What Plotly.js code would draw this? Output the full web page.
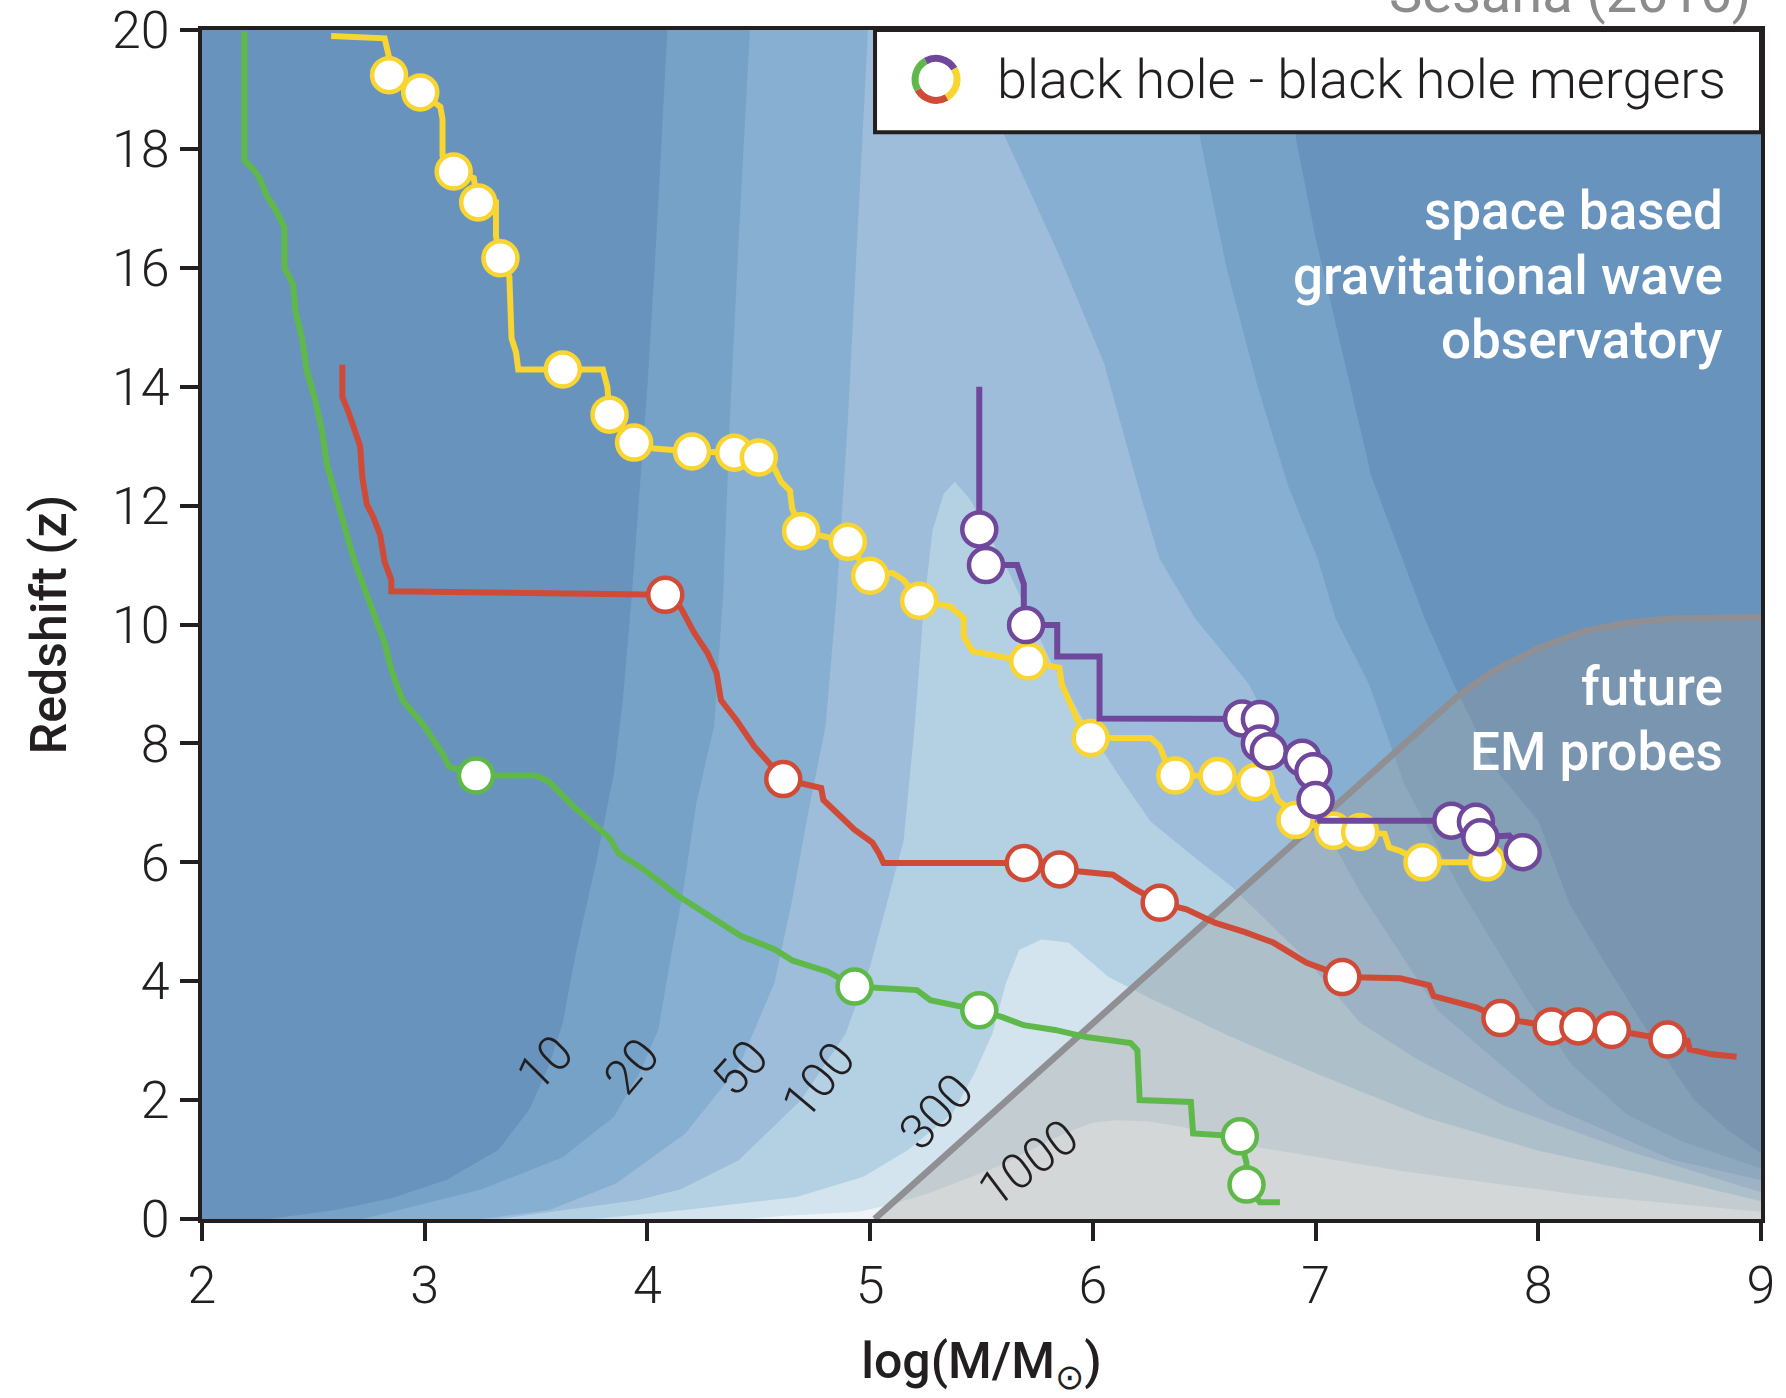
<!DOCTYPE html>
<html>
<head>
<meta charset="utf-8">
<script src="https://cdn.plot.ly/plotly-3.0.1.min.js"></script>
<style>html,body{margin:0;padding:0;background:#fff;}#chart{width:1786px;height:1398px;}</style>
</head>
<body>
<div id="chart"></div>
<script>
// ---------- axis ticks ----------
const xTickVals = [2, 3, 4, 5, 6, 7, 8, 9];
const xTickText = ['2', '3', '4', '5', '6', '7', '8', '9'];
const yTickVals = [0, 2, 4, 6, 8, 10, 12, 14, 16, 18, 20];
const yTickText = ['0', '2', '4', '6', '8', '10', '12', '14', '16', '18', '20'];

// ---------- SNR contour regions (log M, z) ----------
const snr10X = [2.30, 2.60, 2.85, 3.10, 3.33, 3.47, 3.56, 3.62, 3.68, 3.77, 3.85, 3.89, 3.93, 3.97, 4.00, 4.04, 4.07, 4.09,
                6.91, 6.91, 7.00, 7.13, 7.25, 7.39, 7.49, 7.62, 7.80, 8.00, 8.14, 8.30, 8.50, 8.70, 8.85, 9.00, 9.00];
const snr10Z = [0.00, 0.15, 0.35, 0.66, 1.16, 1.84, 2.60, 3.30, 4.50, 6.00, 7.50, 8.74, 10.5, 12.5, 14.0, 16.5, 18.5, 20.0,
                20.0, 18.2, 16.5, 14.4, 12.5, 11.1, 10.1, 9.00, 7.60, 6.70, 5.30, 4.30, 3.10, 2.00, 1.50, 1.10, 0.00];
const snr20X = [2.72, 3.25, 3.62, 3.85, 3.97, 4.05, 4.10, 4.16, 4.22, 4.30, 4.34, 4.37, 4.41, 4.46,
                6.47, 6.48, 6.60, 6.74, 6.88, 7.01, 7.09, 7.24, 7.40, 7.65, 7.95, 8.15, 8.40, 8.65, 9.00, 9.00];
const snr20Z = [0.00, 0.49, 1.04, 1.72, 2.50, 3.20, 4.30, 5.50, 7.00, 8.30, 10.5, 13.45, 16.5, 20.0,
                20.0, 18.2, 16.0, 14.0, 12.3, 11.1, 10.1, 9.00, 7.30, 5.55, 3.70, 2.60, 1.75, 1.30, 0.85, 0.00];
const snr50X = [3.25, 3.56, 3.86, 4.17, 4.41, 4.57, 4.65, 4.72, 4.80, 4.85, 4.90, 4.95, 4.99,
                5.59, 5.60, 5.85, 6.05, 6.22, 6.30, 6.46, 6.70, 6.95, 7.20, 7.55, 8.05, 8.60, 9.00, 9.00];
const snr50Z = [0.00, 0.15, 0.60, 1.44, 2.56, 3.97, 5.37, 6.80, 8.30, 10.5, 13.45, 17.0, 20.0,
                20.0, 18.25, 16.2, 14.4, 12.1, 11.1, 10.1, 9.00, 7.20, 5.50, 3.50, 1.90, 1.00, 0.65, 0.00];
const snr100X = [3.33, 3.96, 4.15, 4.41, 4.69, 4.89, 5.00, 5.08, 5.15, 5.20, 5.24, 5.28, 5.33, 5.38,
                 5.45, 5.62, 5.80, 5.97, 6.14, 6.26, 6.45, 6.62, 6.95, 7.20, 7.45, 7.85, 8.40, 9.00, 9.00];
const snr100Z = [0.00, 0.32, 0.50, 0.99, 2.00, 3.12, 4.25, 5.40, 6.36, 8.30, 10.24, 11.58, 12.2, 12.4,
                 12.1, 10.9, 9.46, 8.30, 7.33, 6.68, 6.10, 5.60, 4.40, 3.30, 2.70, 1.90, 1.15, 0.45, 0.00];
const snr300X = [3.76, 4.17, 4.67, 4.97, 5.17, 5.37, 5.47, 5.55, 5.61, 5.67, 5.77,
                 5.89, 6.07, 6.27, 6.60, 7.00, 7.50, 8.00, 8.50, 9.00, 9.00];
const snr300Z = [0.00, 0.15, 0.37, 0.71, 1.16, 1.78, 2.46, 3.13, 3.97, 4.53, 4.70,
                 4.65, 4.07, 3.69, 3.10, 2.45, 1.70, 1.15, 0.75, 0.30, 0.00];
const snr1000X = [4.45, 4.60, 4.95, 5.10, 5.27, 5.57, 5.87, 6.00, 6.10,
                  6.25, 6.40, 6.75, 7.40, 8.20, 9.00, 9.00];
const snr1000Z = [0.00, 0.05, 0.12, 0.25, 0.44, 0.88, 1.44, 1.62, 1.66,
                  1.64, 1.55, 1.20, 0.80, 0.40, 0.12, 0.00];
const snrLevels = ['10', '20', '50', '100', '300', '1000'];
const snrLabelX = [3.54, 3.93, 4.415, 4.77, 5.30, 5.71];
const snrLabelZ = [2.62, 2.56, 2.54, 2.33, 1.80, 0.94];
const snrLabelAngle = [-45, -50, -48, -50, -47, -37];

// ---------- future EM probes boundary ----------
const emLineX = [5.02, 7.64, 7.80, 8.00, 8.20, 8.40, 8.60, 9.00];
const emLineZ = [0.00, 8.80, 9.22, 9.60, 9.88, 10.03, 10.10, 10.12];

// ---------- merger trees ----------
const greenPathX = [2.19, 2.19, 2.23, 2.26, 2.29, 2.33, 2.37, 2.37, 2.41, 2.42, 2.45, 2.47, 2.51, 2.54, 2.56, 2.60, 2.64, 2.68, 2.73, 2.78, 2.82, 2.85, 2.90, 3.00, 3.08, 3.11, 3.23, 3.50, 3.56, 3.67, 3.83, 3.87, 3.98, 4.14, 4.32, 4.42, 4.57, 4.65, 4.81, 4.93, 5.21, 5.27, 5.49, 5.59, 5.69, 5.83, 5.97, 6.07, 6.17, 6.20, 6.21, 6.44, 6.45, 6.66, 6.69, 6.69, 6.75, 6.84];
const greenPathZ = [19.98, 17.81, 17.66, 17.50, 17.22, 16.98, 16.68, 16.00, 15.71, 15.26, 14.80, 14.28, 13.75, 13.23, 12.70, 12.17, 11.65, 11.12, 10.60, 10.07, 9.69, 9.24, 8.73, 8.28, 7.83, 7.61, 7.46, 7.46, 7.35, 6.93, 6.41, 6.15, 5.89, 5.43, 4.99, 4.76, 4.54, 4.35, 4.16, 3.91, 3.85, 3.68, 3.51, 3.40, 3.26, 3.18, 3.06, 3.01, 2.96, 2.84, 2.00, 1.97, 1.44, 1.39, 0.94, 0.58, 0.28, 0.28];
const greenMergX = [3.23, 4.93, 5.49, 6.66, 6.69];
const greenMergZ = [7.46, 3.91, 3.51, 1.39, 0.58];

const redPathX = [2.63, 2.63, 2.66, 2.68, 2.71, 2.72, 2.74, 2.77, 2.80, 2.82, 2.85, 2.85, 3.50, 4.08, 4.15, 4.21, 4.27, 4.31, 4.33, 4.40, 4.48, 4.55, 4.61, 4.78, 4.79, 4.93, 5.01, 5.04, 5.06, 5.69, 5.85, 6.09, 6.18, 6.30, 6.42, 6.55, 6.68, 6.81, 6.96, 7.04, 7.12, 7.38, 7.51, 7.53, 7.72, 7.83, 8.06, 8.18, 8.33, 8.58, 8.67, 8.68, 8.78, 8.89];
const redPathZ = [14.37, 13.83, 13.55, 13.30, 13.00, 12.47, 12.02, 11.80, 11.50, 11.05, 10.75, 10.56, 10.54, 10.50, 10.28, 9.86, 9.52, 9.19, 8.73, 8.39, 7.95, 7.64, 7.40, 7.25, 7.05, 6.55, 6.33, 6.15, 5.99, 5.99, 5.88, 5.79, 5.57, 5.32, 5.21, 4.98, 4.83, 4.65, 4.31, 4.20, 4.07, 4.05, 3.93, 3.75, 3.56, 3.38, 3.24, 3.24, 3.18, 3.02, 3.00, 2.85, 2.77, 2.73];
const redMergX = [4.08, 4.61, 5.69, 5.85, 6.30, 7.12, 7.83, 8.06, 8.18, 8.33, 8.58];
const redMergZ = [10.50, 7.40, 5.99, 5.88, 5.32, 4.07, 3.38, 3.24, 3.24, 3.18, 3.02];

const yellowPathX = [2.58, 2.82, 2.84, 2.84, 2.98, 3.07, 3.08, 3.08, 3.13, 3.22, 3.24, 3.32, 3.32, 3.34, 3.38, 3.39, 3.41, 3.42, 3.62, 3.80, 3.82, 3.83, 3.94, 4.03, 4.20, 4.39, 4.50, 4.57, 4.60, 4.64, 4.65, 4.69, 4.90, 5.00, 5.10, 5.15, 5.22, 5.36, 5.42, 5.42, 5.46, 5.71, 5.85, 5.86, 5.90, 5.93, 5.99, 6.26, 6.30, 6.32, 6.37, 6.56, 6.73, 6.80, 6.83, 6.87, 6.91, 7.08, 7.20, 7.31, 7.33, 7.38, 7.48, 7.77];
const yellowPathZ = [19.90, 19.86, 19.54, 19.24, 18.95, 18.71, 18.50, 17.89, 17.62, 17.51, 17.10, 17.10, 16.53, 16.16, 15.85, 14.81, 14.58, 14.29, 14.29, 14.29, 14.00, 13.53, 13.06, 12.96, 12.91, 12.89, 12.81, 12.63, 12.40, 12.25, 11.95, 11.57, 11.39, 10.82, 10.87, 10.75, 10.40, 10.30, 10.11, 9.80, 9.55, 9.38, 9.27, 9.00, 8.62, 8.40, 8.09, 8.09, 7.95, 7.76, 7.46, 7.45, 7.35, 7.35, 7.05, 6.93, 6.71, 6.53, 6.51, 6.48, 6.25, 6.19, 6.00, 6.00];
const yellowMergX = [2.84, 2.98, 3.13, 3.24, 3.34, 3.62, 3.83, 3.94, 4.20, 4.39, 4.50, 4.69, 4.90, 5.00, 5.22, 5.71, 5.99, 6.37, 6.56, 6.73, 6.91, 7.08, 7.20, 7.48, 7.77];
const yellowMergZ = [19.24, 18.95, 17.62, 17.10, 16.16, 14.29, 13.53, 13.06, 12.91, 12.89, 12.81, 11.57, 11.39, 10.82, 10.40, 9.38, 8.09, 7.46, 7.45, 7.35, 6.71, 6.53, 6.51, 6.00, 6.00];

const purplePathX = [5.49, 5.49, 5.52, 5.66, 5.69, 5.69, 5.70, 5.84, 5.84, 6.03, 6.03, 6.67, 6.75, 6.75, 6.79, 6.94, 6.99, 7.00, 7.02, 7.61, 7.72, 7.74, 7.87, 7.93];
const purplePathZ = [14.00, 11.60, 11.00, 11.00, 10.68, 10.30, 9.99, 9.99, 9.46, 9.46, 8.42, 8.42, 8.41, 8.00, 7.87, 7.76, 7.53, 7.05, 6.70, 6.70, 6.68, 6.42, 6.45, 6.17];
const purpleMergX = [5.49, 5.52, 5.70, 6.67, 6.75, 6.75, 6.79, 6.94, 6.99, 7.00, 7.61, 7.72, 7.74, 7.93];
const purpleMergZ = [11.60, 11.00, 9.99, 8.42, 8.41, 8.00, 7.87, 7.76, 7.53, 7.05, 6.70, 6.68, 6.42, 6.17];

// ---------- styles ----------
const bandColors = ['#6893BD', '#77A2C8', '#86AFD1', '#9DBDDA', '#B4D1E4', '#D3E4EE', '#EEF3F8'];
const C = {green: '#5FB94A', red: '#CF4B37', yellow: '#F8D531', purple: '#6F479B', ink: '#231F20', em: '#8F8F94'};
const FONT = 'Roboto, "Open Sans", "DejaVu Sans", sans-serif';

const traces = [];
const bands = [[snr10X, snr10Z], [snr20X, snr20Z], [snr50X, snr50Z], [snr100X, snr100Z], [snr300X, snr300Z], [snr1000X, snr1000Z]];
bands.forEach((b, i) => {
  traces.push({type: 'scatter', mode: 'lines', x: b[0], y: b[1], fill: 'toself',
    fillcolor: bandColors[i + 1], line: {width: 0, color: bandColors[i + 1]}, hoverinfo: 'skip', showlegend: false});
});
// EM overlay
traces.push({type: 'scatter', mode: 'lines', x: emLineX.concat([9]), y: emLineZ.concat([0]), fill: 'toself',
  fillcolor: 'rgba(160,155,150,0.32)', line: {width: 0}, hoverinfo: 'skip', showlegend: false});
traces.push({type: 'scatter', mode: 'lines', x: emLineX, y: emLineZ, line: {color: C.em, width: 6.5},
  hoverinfo: 'skip', showlegend: false});

const trees = [
  [greenPathX, greenPathZ, greenMergX, greenMergZ, C.green],
  [redPathX, redPathZ, redMergX, redMergZ, C.red],
  [yellowPathX, yellowPathZ, yellowMergX, yellowMergZ, C.yellow],
  [purplePathX, purplePathZ, purpleMergX, purpleMergZ, C.purple]
];
trees.forEach(t => {
  traces.push({type: 'scatter', mode: 'lines', x: t[0], y: t[1], line: {color: t[4], width: 6},
    hoverinfo: 'skip', showlegend: false});
  traces.push({type: 'scatter', mode: 'markers', x: t[2], y: t[3],
    marker: {size: 34, color: '#ffffff', line: {color: t[4], width: 4.5}}, hoverinfo: 'skip', showlegend: false});
});

// ---------- annotations ----------
const annotations = [];
snrLevels.forEach((s, i) => {
  annotations.push({x: snrLabelX[i], y: snrLabelZ[i], xref: 'x', yref: 'y', text: s, showarrow: false,
    textangle: snrLabelAngle[i], font: {family: FONT, size: 49, weight: 300, color: C.ink}});
});
const whiteFont = {family: FONT, size: 53, weight: 500, color: '#ffffff'};
[['space based', 16.95], ['gravitational wave', 15.87], ['observatory', 14.79], ['future', 8.95], ['EM probes', 7.86]]
  .forEach(a => annotations.push({x: 8.84, y: a[1], xref: 'x', yref: 'y', xanchor: 'right', yanchor: 'middle',
    text: a[0], showarrow: false, font: whiteFont}));
annotations.push({x: 5.56, y: 19.17, xref: 'x', yref: 'y', xanchor: 'left', yanchor: 'middle',
  text: 'black hole - black hole mergers', showarrow: false, font: {family: FONT, size: 54, weight: 300, color: C.ink}});
annotations.push({x: 0.995, y: 1, xref: 'paper', yref: 'paper', xanchor: 'right', yanchor: 'bottom', yshift: 2,
  text: 'Sesana (2016)', showarrow: false, font: {family: FONT, size: 56, weight: 400, color: '#8C8C8C'}});

// ---------- legend box + ring ----------
function arcPath(r, a1, a2) {
  const t1 = a1 * Math.PI / 180, t2 = a2 * Math.PI / 180;
  const k = 4 / 3 * Math.tan((t2 - t1) / 4) * r;
  const p0 = [r * Math.cos(t1), r * Math.sin(t1)], p3 = [r * Math.cos(t2), r * Math.sin(t2)];
  const p1 = [p0[0] - k * Math.sin(t1), p0[1] + k * Math.cos(t1)];
  const p2 = [p3[0] + k * Math.sin(t2), p3[1] - k * Math.cos(t2)];
  return 'M' + p0.join(',') + ' C' + p1.join(',') + ' ' + p2.join(',') + ' ' + p3.join(',');
}
const shapes = [{type: 'rect', xref: 'x', yref: 'y', x0: 5.022, x1: 9, y0: 18.28, y1: 20, fillcolor: '#ffffff',
  line: {color: C.ink, width: 4}, layer: 'above'}];
[[C.purple, 120, 30], [C.yellow, 30, -60], [C.red, -60, -150], [C.green, -150, -240]].forEach(s => {
  shapes.push({type: 'path', xref: 'x', yref: 'y', xsizemode: 'pixel', ysizemode: 'pixel', xanchor: 5.296, yanchor: 19.17,
    path: arcPath(21, s[1], s[2]), line: {color: s[0], width: 7}, layer: 'above'});
});

const tickFont = {family: FONT, size: 52, weight: 300, color: C.ink};
const titleFont = {family: FONT, size: 50, weight: 500, color: C.ink};
const axisCommon = {ticks: 'outside', ticklen: 18, tickwidth: 4, tickcolor: C.ink, showline: true, linewidth: 4,
  linecolor: C.ink, mirror: true, showgrid: false, zeroline: false, tickfont: tickFont, fixedrange: true};

const layout = {
  width: 1786, height: 1398,
  margin: {l: 202, r: 25, t: 30, b: 179, pad: 0},
  paper_bgcolor: '#ffffff', plot_bgcolor: bandColors[0],
  showlegend: false,
  xaxis: Object.assign({}, axisCommon, {range: [2, 9], tickmode: 'array', tickvals: xTickVals, ticktext: xTickText,
    title: {text: 'log(M/M<sub>⊙</sub>)', font: titleFont, standoff: 30}}),
  yaxis: Object.assign({}, axisCommon, {range: [0, 20], tickmode: 'array', tickvals: yTickVals, ticktext: yTickText,
    title: {text: 'Redshift (z)', font: titleFont, standoff: 30}}),
  annotations: annotations,
  shapes: shapes
};

Plotly.newPlot('chart', traces, layout, {staticPlot: true, displayModeBar: false});
</script>
</body>
</html>
